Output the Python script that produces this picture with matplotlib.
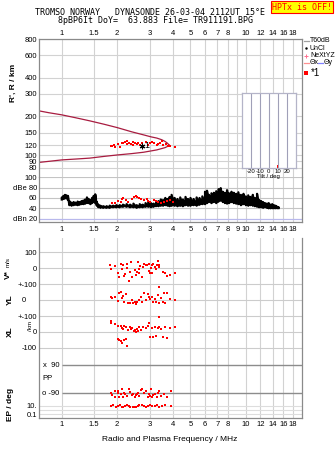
import numpy as np
import matplotlib
matplotlib.use("Agg")
import matplotlib.pyplot as plt
from matplotlib.ticker import NullLocator
from matplotlib.transforms import blended_transform_factory
from matplotlib.patches import Rectangle

W, H, DPI = 335, 451, 100

# ----------------------------------
# DATA
# ----------------------------------

freq_ticks = [1, 1.5, 2, 3, 4, 5, 6, 7, 8, 10, 12, 14, 16, 18]
freq_ticks_mid = [1, 1.5, 2, 3, 4, 5, 6, 7, 8, 9, 10, 12, 14, 16, 18]
height_ticks = [80, 90, 100, 120, 150, 200, 300, 400, 600, 800]
dbe_ticks = [20, 40, 60, 80, 100]
dbe_labels = ["dBn 20", "40", "60", "dBe 80", "100"]
tilt_ticks = [-20, -10, 0, 10, 20]

# model trace (upper and lower branch)
trace_up_f = [0.755, 0.85, 1.0, 1.2, 1.42, 1.7, 2.0, 2.4, 2.78, 3.05, 3.28, 3.49, 3.64, 3.75, 3.83]
trace_up_h = [221, 214, 206, 195, 185, 174, 164, 152, 144, 139, 136, 132, 128, 124, 120]
trace_lo_f = [3.83, 3.75, 3.64, 3.28, 2.78, 2.4, 2.0, 1.7, 1.42, 1.2, 1.0, 0.755]
trace_lo_h = [120, 117, 114.6, 110, 105.5, 103, 100.5, 98, 95, 93.5, 92, 88]

# echoes (*1)
echo_f = [1.846, 1.88, 1.924, 1.95, 2.03, 2.06, 2.12, 2.16, 2.21, 2.25, 2.27, 2.33, 2.37, 2.43,
          2.45, 2.50, 2.56, 2.61, 2.66, 2.72, 2.85, 2.95, 3.02, 3.08, 3.17, 3.28, 3.35, 3.42,
          3.49, 3.54, 3.69, 3.77, 3.88, 4.13]
echo_h = [118.1, 119, 120.3, 116, 122.4, 116.7, 125.3, 123.8, 127.6, 128, 122.4, 125.3, 122.4, 126.9,
          120, 123.8, 122.4, 125.3, 120.9, 123.8, 126, 121, 123.8, 127.6, 123.8, 120.9, 122.4, 125.3,
          128.3, 119.6, 122.4, 118.1, 118.1, 116.7]
mark1_f, mark1_h = 2.74, 118

# echo amplitude (black = all, red = *1)
dbe_f = [1.00, 1.02, 1.04, 1.06, 1.08, 1.10, 1.13, 1.16, 1.19, 1.22, 1.25, 1.28, 1.31, 1.34, 1.37,
         1.40, 1.43, 1.46, 1.49, 1.52, 1.55, 1.58, 1.62, 1.68, 1.75, 1.82, 1.90, 1.98, 2.06, 2.15,
         2.25, 2.35, 2.45, 2.55, 2.65, 2.75, 2.85, 2.95, 3.05, 3.15, 3.25, 3.35, 3.45, 3.55, 3.65,
         3.75, 3.85, 3.95, 4.10, 4.25, 4.40, 4.55, 4.70, 4.85, 5.00, 5.20, 5.40, 5.60, 5.80, 6.00,
         6.15, 6.30, 6.50, 6.70, 6.90, 7.10, 7.30, 7.50, 7.70, 7.90, 8.10, 8.35, 8.60, 8.85, 9.10,
         9.40, 9.70, 10.0, 10.3, 10.6, 10.9, 11.2, 11.5, 11.8, 12.1, 12.4, 12.7, 13.0, 13.3, 13.6,
         13.9, 14.2, 14.5, 14.8, 15.1]
dbe_lo = [57, 58, 59, 60, 56, 46, 45, 46, 47, 46, 47, 48, 48, 49, 50,
          50, 48, 50, 52, 50, 45, 42, 41, 41, 41, 41, 42, 42, 42, 43,
          43, 42, 42, 41, 42, 42, 43, 43, 42, 43, 44, 44, 45, 45, 46,
          45, 44, 45, 45, 44, 45, 44, 46, 45, 45, 46, 45, 47, 48, 48,
          50, 52, 50, 52, 50, 53, 55, 52, 50, 49, 50, 52, 50, 49, 48,
          46, 48, 46, 45, 46, 45, 44, 43, 42, 42, 41, 42, 41, 40, 40,
          40, 40, 40, 40, 40]
dbe_hi = [61, 64, 66, 65, 64, 54, 51, 52, 51, 53, 52, 54, 55, 57, 61,
          58, 56, 60, 64, 67, 52, 47, 45, 44, 44, 45, 45, 46, 46, 47,
          48, 47, 49, 46, 48, 47, 50, 53, 50, 49, 51, 54, 57, 56, 60,
          58, 62, 66, 60, 58, 61, 57, 62, 58, 60, 58, 61, 60, 63, 72,
          74, 66, 69, 70, 73, 77, 79, 72, 70, 75, 69, 72, 70, 68, 71,
          66, 68, 63, 65, 62, 66, 60, 68, 56, 54, 52, 50, 49, 50, 47,
          48, 46, 45, 43, 41]
dbe_red_f = [1.87, 1.95, 2.03, 2.09, 2.12, 2.16, 2.24, 2.30, 2.40, 2.47, 2.53, 2.57, 2.64,
             2.69, 2.78, 2.90, 2.95, 3.02, 3.15, 3.25, 3.35, 3.45, 3.60, 3.72, 3.88, 4.03]
dbe_red = [49.5, 50.8, 54.7, 52.1, 57.3, 59.2, 56, 52.8, 57.3, 62.5, 63.8, 61.2, 59.2,
           57.3, 56, 57.3, 54.7, 52.8, 56, 54, 52.8, 50.8, 52.8, 54.7, 56, 52.8]

# Doppler velocity V* (m/s)
v_f = [1.83, 1.84, 1.95, 2.03, 2.05, 2.09, 2.12, 2.16, 2.18, 2.20, 2.25, 2.27, 2.31, 2.36, 2.37,
       2.40, 2.49, 2.53, 2.57, 2.59, 2.62, 2.64, 2.67, 2.73, 2.75, 2.78, 2.86, 2.91, 2.97, 2.99,
       3.02, 3.06, 3.08, 3.10, 3.14, 3.20, 3.26, 3.30, 3.32, 3.36, 3.39, 3.54, 3.64, 3.71, 3.87, 4.13]
v_ms = [21, -6, 14, -31, -56, 27, -4, 19, -48, -38, 25, 4, -77, -21, 41,
        -52, -10, -42, -21, 41, -6, -31, 14, -52, 10, 27, 21, 19, 25, -15,
        -31, 0, -27, 21, 27, 10, -6, 21, 48, 10, 21, -25, -29, -46, -40, -27]

# echo location YL, XL (km)
yl_f = [1.84, 1.87, 1.95, 2.01, 2.05, 2.09, 2.12, 2.16, 2.19, 2.24, 2.30, 2.35, 2.40, 2.44, 2.49,
        2.54, 2.57, 2.62, 2.69, 2.73, 2.78, 2.86, 2.94, 2.99, 3.02, 3.08, 3.14, 3.20, 3.26, 3.32,
        3.36, 3.39, 3.45, 3.55, 3.58, 3.64, 3.71, 3.87, 4.13]
yl_km = [18, 12, 18, -4, 43, 54, 12, 27, -8, 39, -15, -15, 2, -19, -8,
         -23, -12, 2, 23, -8, 43, 2, 39, 23, 6, 18, -8, 10, -8, 33,
         81, -19, 12, -12, 48, -15, 48, 10, 2]
xl_f = [1.84, 1.85, 1.95, 2.03, 2.09, 2.13, 2.16, 2.18, 2.24, 2.30, 2.35, 2.37, 2.42, 2.46, 2.49,
        2.53, 2.57, 2.60, 2.64, 2.69, 2.75, 2.86, 2.93, 2.99, 3.02, 3.08, 3.12, 3.20, 3.26, 3.32,
        3.36, 3.39, 3.45, 3.55, 3.65, 2.01, 2.05, 2.09, 2.13, 2.18, 2.24, 2.27, 3.64, 3.71, 3.87, 4.13]
xl_km = [67, 54, 50, 37, 37, 27, 17, 40, 33, 12, 33, 17, 23, 8, 12,
         2, 17, 8, 29, 12, 29, 23, 40, 58, -29, 23, -33, 33, -27, 23,
         96, 29, 17, -33, 29, -42, -50, -54, -71, -50, -46, -88, 31, -37, 25, 31]

# polarization PP (deg) and EP (deg)
pp_f = [1.84, 1.87, 1.95, 2.01, 2.05, 2.09, 2.12, 2.16, 2.20, 2.27, 2.32, 2.35, 2.40, 2.44, 2.49,
        2.54, 2.59, 2.62, 2.69, 2.73, 2.81, 2.86, 2.95, 3.02, 3.06, 3.10, 3.20, 3.30, 3.32, 3.39,
        3.45, 3.58, 3.72, 3.93, 1.95, 2.03, 2.18, 2.56, 2.97, 3.14]
pp_deg = [-86, -101, -73, -77, -112, -95, -64, -116, -95, -108, -64, -80, -101, -95, -112,
          -101, -86, -108, -69, -60, -90, -77, -112, -108, -60, -112, -95, -112, -90, -77,
          -108, -95, -116, -77, -116, -90, -86, -95, -95, -103]
ep_f = [1.84, 1.90, 1.97, 2.03, 2.07, 2.12, 2.16, 2.20, 2.27, 2.32, 2.36, 2.44, 2.49, 2.54,
        2.59, 2.64, 2.73, 2.81, 2.86, 2.95, 3.02, 3.10, 3.20, 3.30, 3.39, 3.52, 3.65, 3.93]
ep_deg = [10, 14.8, 6.9, 10, 14.8, 4.8, 6.9, 10, 14.8, 10, 6.9, 4.8, 4.8, 6.9,
          10, 14.8, 21.5, 10, 6.9, 10, 14.8, 10, 10, 14.8, 6.9, 10, 14.8, 10]

# tilt histogram
tilt_x_deg, tilt_x_n = [9.5], [1]
tilt_y_deg, tilt_y_n = [10.7], [1]

# ----------------------------------
# STYLE
# ----------------------------------

RED = "#ff0000"
GRID = "#d2d2d2"
SPINE = "#8a8a8a"
TRACE = "#a81c40"
FS = 5.5
MS = 1.9
plt.rcParams["font.family"] = ["Liberation Sans", "DejaVu Sans"]

# lower panel row layout (axis units)
ROW = 0.16
v0, yl0, xl0 = 149.7, 117.7, 86.0
pp_m90, pp_p90 = 24.7, 52.7
ep10, ep_dec = 12.0, 4.15


def pp_u(p):
    return pp_m90 + (np.asarray(p) + 90) * (pp_p90 - pp_m90) / 180


def ep_u(e):
    return ep10 + (np.log10(np.asarray(e, dtype=float)) - 1) * ep_dec


def rect(l, t, r, b):
    return [l / W, 1 - b / H, (r - l) / W, (b - t) / H]


def freq_axis(ax, ticks, grid):
    ax.set_xscale("log")
    ax.set_xlim(0.755, 20.1)
    ax.xaxis.set_minor_locator(NullLocator())
    ax.set_xticks(ticks)
    ax.set_xticklabels([f"{t:g}" for t in ticks])
    for f in grid:
        ax.axvline(f, color=GRID, lw=0.8, zorder=0)
    ax.tick_params(length=0, labelsize=FS)
    for s in ax.spines.values():
        s.set_color(SPINE)
        s.set_linewidth(0.9)


fig = plt.figure(figsize=(W / DPI, H / DPI), dpi=DPI)

# ----------------------------------
# HEIGHT PANEL
# ----------------------------------

ax_h = fig.add_axes(rect(39.3, 39, 301.7, 177.3))
freq_axis(ax_h, freq_ticks, freq_ticks_mid)
ax_h.set_yscale("log")
ax_h.set_ylim(67.4, 800)
ax_h.yaxis.set_minor_locator(NullLocator())
ax_h.set_yticks(height_ticks)
ax_h.set_yticklabels([str(t) for t in height_ticks])
for h in height_ticks:
    ax_h.axhline(h, color=GRID, lw=0.8, zorder=0)
ax_h.xaxis.tick_top()
ax_h.tick_params(axis="x", pad=1.5)
ax_h.tick_params(axis="y", pad=1.6)
ax_h.spines["bottom"].set_visible(False)

ax_h.plot(trace_up_f, trace_up_h, color=TRACE, lw=0.9)
ax_h.plot(trace_lo_f, trace_lo_h, color=TRACE, lw=0.9)
ax_h.plot(echo_f, echo_h, "s", color=RED, ms=MS, mew=0)
ax_h.plot([mark1_f], [mark1_h], marker=(6, 2, 0), color="black", ms=4, mew=0.8)
ax_h.text(mark1_f * 1.03, mark1_h, "1", fontsize=6.5, va="center", ha="left")

# ----------------------------------
# AMPLITUDE STRIP
# ----------------------------------

ax_d = fig.add_axes(rect(39.3, 177.3, 301.7, 221.7))
freq_axis(ax_d, freq_ticks_mid, freq_ticks_mid)
ax_d.set_ylim(14, 100)
ax_d.set_yticks(dbe_ticks)
ax_d.set_yticklabels(dbe_labels)
for d in dbe_ticks[1:]:
    ax_d.axhline(d, color="#c4c4c4", lw=0.8, zorder=0)
ax_d.axhline(20, color="#b8b8ec", lw=0.9, zorder=0)
ax_d.spines["top"].set_visible(False)
ax_d.tick_params(axis="x", pad=3.2)
ax_d.tick_params(axis="y", pad=1.6)

lo = np.array(dbe_lo, dtype=float)
hi = np.array(dbe_hi, dtype=float)
zig_f = np.repeat(dbe_f, 2)
zig_d = np.column_stack([lo, hi]).ravel()
ax_d.fill_between(dbe_f, lo, (lo + hi) / 2, color="black", lw=0)
ax_d.plot(zig_f, zig_d, color="black", lw=1.6)
ax_d.plot(dbe_red_f, dbe_red, "s", color=RED, ms=MS, mew=0, zorder=5)

# ----------------------------------
# LOWER PANEL
# ----------------------------------

ax_l = fig.add_axes(rect(39.3, 238, 301.7, 418))
freq_axis(ax_l, freq_ticks, freq_ticks)
ax_l.set_ylim(0, 180)
ax_l.spines["top"].set_visible(False)
ax_l.tick_params(axis="x", pad=2.5)
ax_l.tick_params(axis="y", pad=1.6)

rows = [v0 + 100 * ROW, v0, v0 - 100 * ROW, yl0 - 100 * ROW, xl0, xl0 - 100 * ROW]
ax_l.set_yticks(rows + [float(ep_u(10)), float(ep_u(0.1))])
ax_l.set_yticklabels(["100", "0", "+-100", "+-100", "0", "-100", "10.", "0.1"])
for u in rows + [yl0]:
    ax_l.axhline(u, color="#cccccc", lw=0.8, zorder=0)
for e in [10, 1, 0.1]:
    ax_l.axhline(float(ep_u(e)), color="#dddddd", lw=0.8, zorder=0)
bt = blended_transform_factory(ax_l.transAxes, ax_l.transData)
ax_l.text(-0.05, yl0, "0", transform=bt, fontsize=FS, ha="right", va="center")

ax_l.hlines([pp_u(90), pp_u(-90)], 1.0, 20.1, color="#8c8c8c", lw=1.0)
ax_l.text(0.975, float(pp_u(90)), "x  90", fontsize=FS, ha="right", va="center")
ax_l.text(0.975, float(pp_u(-90)), "o -90", fontsize=FS, ha="right", va="center")
ax_l.text(0.78, 39.5, "PP", fontsize=FS, ha="left", va="center")

ax_l.plot(v_f, v0 + np.array(v_ms) * ROW, "s", color=RED, ms=MS, mew=0)
ax_l.plot(yl_f, yl0 + np.array(yl_km) * ROW, "s", color=RED, ms=MS, mew=0)
ax_l.plot(xl_f, xl0 + np.array(xl_km) * ROW, "s", color=RED, ms=MS, mew=0)
ax_l.plot(pp_f, pp_u(pp_deg), "s", color=RED, ms=MS, mew=0)
ax_l.plot(ep_f, ep_u(ep_deg), "s", color=RED, ms=MS, mew=0)

# ----------------------------------
# TILT INSET
# ----------------------------------

ax_t = fig.add_axes(rect(241.7, 93.3, 295.7, 168.3))
ax_t.set_xlim(-30, 30)
ax_t.set_ylim(0, 23)
ax_t.set_yticks([])
ax_t.set_xticks(tilt_ticks)
ax_t.set_xticklabels([str(t) for t in tilt_ticks])
ax_t.tick_params(length=0, labelsize=4.3, pad=0.8)
ax_t.set_xlabel("Tilt / deg", fontsize=4.3, labelpad=0)
for s in ax_t.spines.values():
    s.set_color("#b4b4c8")
    s.set_linewidth(0.9)
for t in tilt_ticks:
    ax_t.axvline(t, color="#a0a0b8", lw=0.8)
ax_t.bar(tilt_x_deg, tilt_x_n, width=1.2, color=RED)
ax_t.bar(tilt_y_deg, tilt_y_n, width=1.2, color="#2030ff")

# ----------------------------------
# HEADER, LEGEND, LABELS
# ----------------------------------

ov = fig.add_axes([0, 0, 1, 1])
ov.set_xlim(0, W)
ov.set_ylim(H, 0)
ov.axis("off")
ov.patch.set_alpha(0)

mono = ["DejaVu Sans Mono"]
ov.text(150, 12.5, "TROMSO NORWAY   DYNASONDE 26-03-04 2112UT 15\u00b0E",
        family=mono, fontsize=6, ha="center", va="center")
ov.text(155, 20.5, "8pBP6It DoY=  63.883 File= TR911191.BPG",
        family=mono, fontsize=6, ha="center", va="center")
ov.add_patch(Rectangle((271, 1), 62, 11.5, facecolor="#ffff00", edgecolor="#ff0000", lw=0.8))
ov.text(302, 7, "HPTx is OFF!", family=mono, fontsize=6, color="#ff0000", ha="center", va="center")

LX = 310
ov.plot([303.5, 308.5], [41, 41], color="#a0a0a0", lw=0.9)
ov.text(LX, 41, "T60dB", fontsize=5, va="center")
ov.plot([306], [48], ".", color="black", ms=1.5)
ov.text(LX, 48, "UnCl", fontsize=5, va="center")
ov.plot([306], [55.5], "+", color="#ff7090", ms=3.5, mew=0.7)
ov.text(LX, 55.5, "NeXtYZ", fontsize=5, va="center")
ov.plot([303.5, 308.5], [63, 63], color="#ff9090", lw=0.9)
ov.text(LX, 63, "\u0398x", fontsize=5, va="center")
ov.plot([318, 323], [63, 63], color="#8080ff", lw=0.9)
ov.text(323.5, 63, "\u0398y", fontsize=5, va="center")
ov.plot([306], [72.5], "s", color=RED, ms=2.6, mew=0)
ov.text(LX + 1, 72.5, "*1", fontsize=7, va="center")

ov.text(13, 83, "R', R / km", fontsize=6, weight="bold", rotation=90, ha="center", va="center")
ov.text(8, 275, "V*", fontsize=6, weight="bold", rotation=90, ha="center", va="center")
ov.text(8, 262, "m/s", fontsize=4.5, rotation=90, ha="center", va="center")
ov.text(10, 300, "YL", fontsize=6, weight="bold", rotation=90, ha="center", va="center")
ov.text(31, 326, "/km", fontsize=4.5, rotation=90, ha="center", va="center")
ov.text(10, 332, "XL", fontsize=6, weight="bold", rotation=90, ha="center", va="center")
ov.text(10, 404, "EP / deg", fontsize=6, weight="bold", rotation=90, ha="center", va="center")
ov.text(170, 439.5, "Radio and Plasma Frequency / MHz", fontsize=6, ha="center", va="center")

fig.savefig("out.png", dpi=DPI)
